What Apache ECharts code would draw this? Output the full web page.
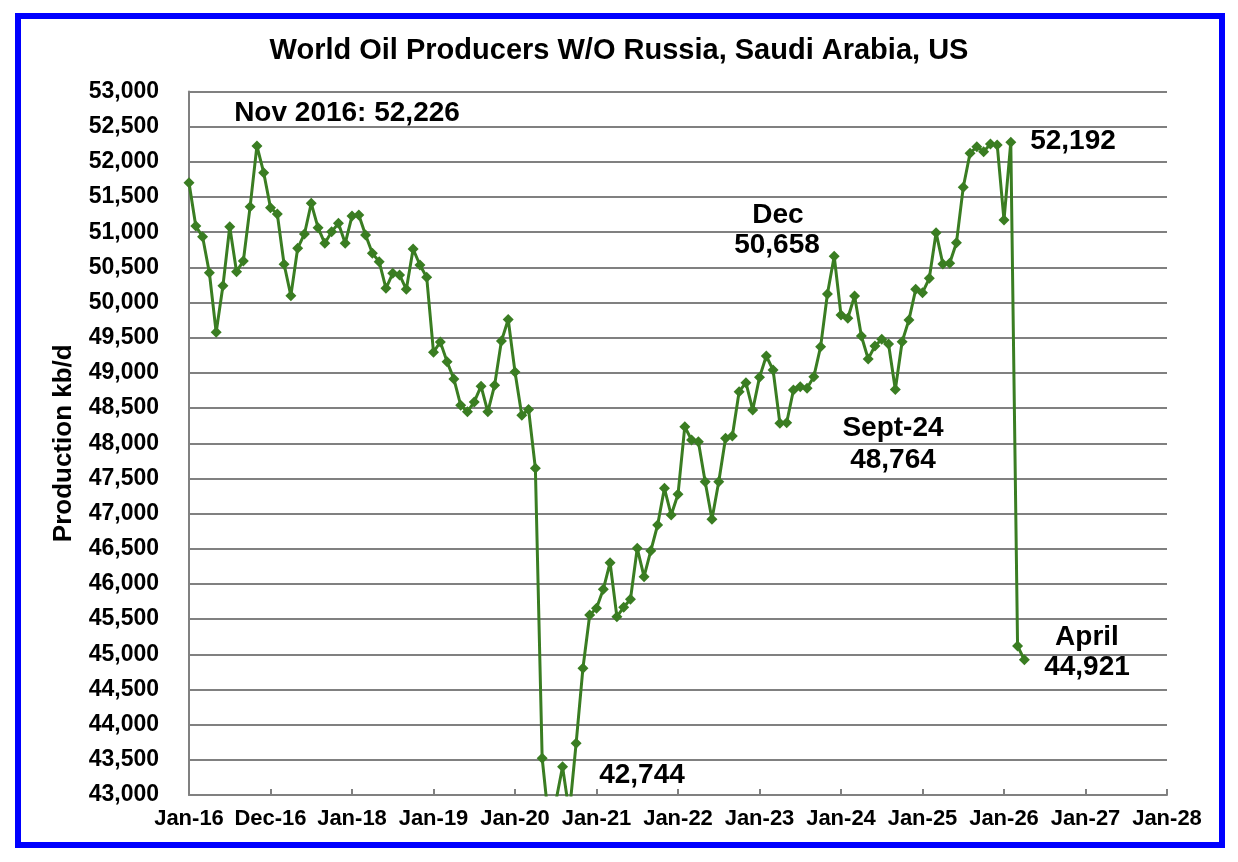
<!DOCTYPE html>
<html>
<head>
<meta charset="utf-8">
<script src="https://cdn.jsdelivr.net/npm/echarts@6/dist/echarts.min.js"></script>
<style>
  html, body { margin: 0; padding: 0; background: #fff; }
  #main { width: 1238px; height: 862px; }
</style>
</head>
<body>
<div id="main"></div>
<script>
  // monthly production, kb/d, Jan 2016 .. Apr 2026
  var prod2016 = [51704, 51088, 50936, 50424, 49577, 50240, 51078, 50439, 50591, 51363, 52226, 51846];
  var prod2017 = [51349, 51259, 50544, 50098, 50771, 50975, 51411, 51064, 50842, 51007, 51126, 50842];
  var prod2018 = [51230, 51245, 50960, 50700, 50581, 50203, 50416, 50392, 50188, 50761, 50534, 50359];
  var prod2019 = [49294, 49441, 49157, 48915, 48541, 48446, 48588, 48811, 48446, 48826, 49452, 49760];
  var prod2020 = [49014, 48398, 48480, 47644, 43522, 42600, 42900, 43402, 42744, 43735, 44801, 45559];
  var prod2021 = [45654, 45924, 46302, 45535, 45668, 45782, 46507, 46103, 46473, 46838, 47360, 46980];
  var prod2022 = [47274, 48235, 48046, 48022, 47453, 46919, 47453, 48070, 48103, 48733, 48861, 48473];
  var prod2023 = [48937, 49240, 49041, 48284, 48292, 48757, 48804, 48781, 48946, 49373, 50122, 50658];
  var prod2024 = [49823, 49776, 50093, 49525, 49199, 49382, 49477, 49411, 48764, 49444, 49752, 50188];
  var prod2025 = [50140, 50345, 50993, 50548, 50558, 50851, 51638, 52122, 52216, 52145, 52254, 52240];
  var prod2026 = [51173, 52280, 45118, 44921];

  var xLabels = ['Jan-16', 'Dec-16', 'Jan-18', 'Jan-19', 'Jan-20', 'Jan-21', 'Jan-22',
                 'Jan-23', 'Jan-24', 'Jan-25', 'Jan-26', 'Jan-27', 'Jan-28'];

  var allProd = [].concat(prod2016, prod2017, prod2018, prod2019, prod2020, prod2021,
                          prod2022, prod2023, prod2024, prod2025, prod2026);
  var seriesData = allProd.map(function (v, i) { return [i, v]; });

  var green = '#3a7d22';
  var fontFam = '"Liberation Sans", Arial, sans-serif';

  function note(text, x, y) {
    return {
      type: 'text', x: x, y: y, z: 50,
      style: { text: text, font: 'bold 28px ' + fontFam, fill: '#000', align: 'center', verticalAlign: 'middle' }
    };
  }

  var myChart = echarts.init(document.getElementById('main'));
  var option = {
    backgroundColor: '#fff',
    animation: false,
    title: {
      text: 'World Oil Producers W/O Russia, Saudi Arabia, US',
      left: 'center', top: 31,
      textStyle: { fontFamily: fontFam, fontWeight: 'bold', fontSize: 29, color: '#000' }
    },
    grid: { left: 189, right: 71, top: 91.5, bottom: 67 },
    xAxis: {
      type: 'value',
      min: 0, max: 144, interval: 12,
      axisLine: { lineStyle: { color: '#808080', width: 2 } },
      axisTick: { show: true, inside: true, length: 6, lineStyle: { color: '#808080', width: 2 } },
      splitLine: { show: false },
      axisLabel: {
        margin: 13,
        fontFamily: fontFam, fontWeight: 'bold', fontSize: 22, color: '#000',
        formatter: function (v) { return xLabels[Math.round(v / 12)] || ''; }
      }
    },
    yAxis: {
      type: 'value',
      min: 43000, max: 53000, interval: 500,
      name: 'Production kb/d',
      nameLocation: 'middle',
      nameGap: 112,
      nameTextStyle: { fontFamily: fontFam, fontWeight: 'bold', fontSize: 26, color: '#000' },
      axisLine: { show: true, lineStyle: { color: '#808080', width: 2 } },
      axisTick: { show: false },
      splitLine: { lineStyle: { color: '#808080', width: 2 } },
      axisLabel: {
        margin: 30,
        fontFamily: fontFam, fontWeight: 'bold', fontSize: 23, color: '#000',
        formatter: function (v) { return v.toLocaleString('en-US'); }
      }
    },
    series: [{
      type: 'line',
      data: seriesData,
      clip: true,
      symbol: 'diamond',
      symbolSize: 11,
      lineStyle: { color: green, width: 3 },
      itemStyle: { color: green }
    }],
    graphic: [
      {
        type: 'rect', shape: { x: 18, y: 16, width: 1204, height: 829 },
        style: { fill: 'none', stroke: '#0000ff', lineWidth: 6 }, z: 100
      },
      note('Nov 2016: 52,226', 347, 113),
      note('Dec', 778, 215),
      note('50,658', 777, 245),
      note('Sept-24', 893, 428),
      note('48,764', 893, 460),
      note('52,192', 1073, 141),
      note('April', 1087, 637),
      note('44,921', 1087, 667),
      note('42,744', 642, 775)
    ]
  };
  myChart.setOption(option);
</script>
</body>
</html>
